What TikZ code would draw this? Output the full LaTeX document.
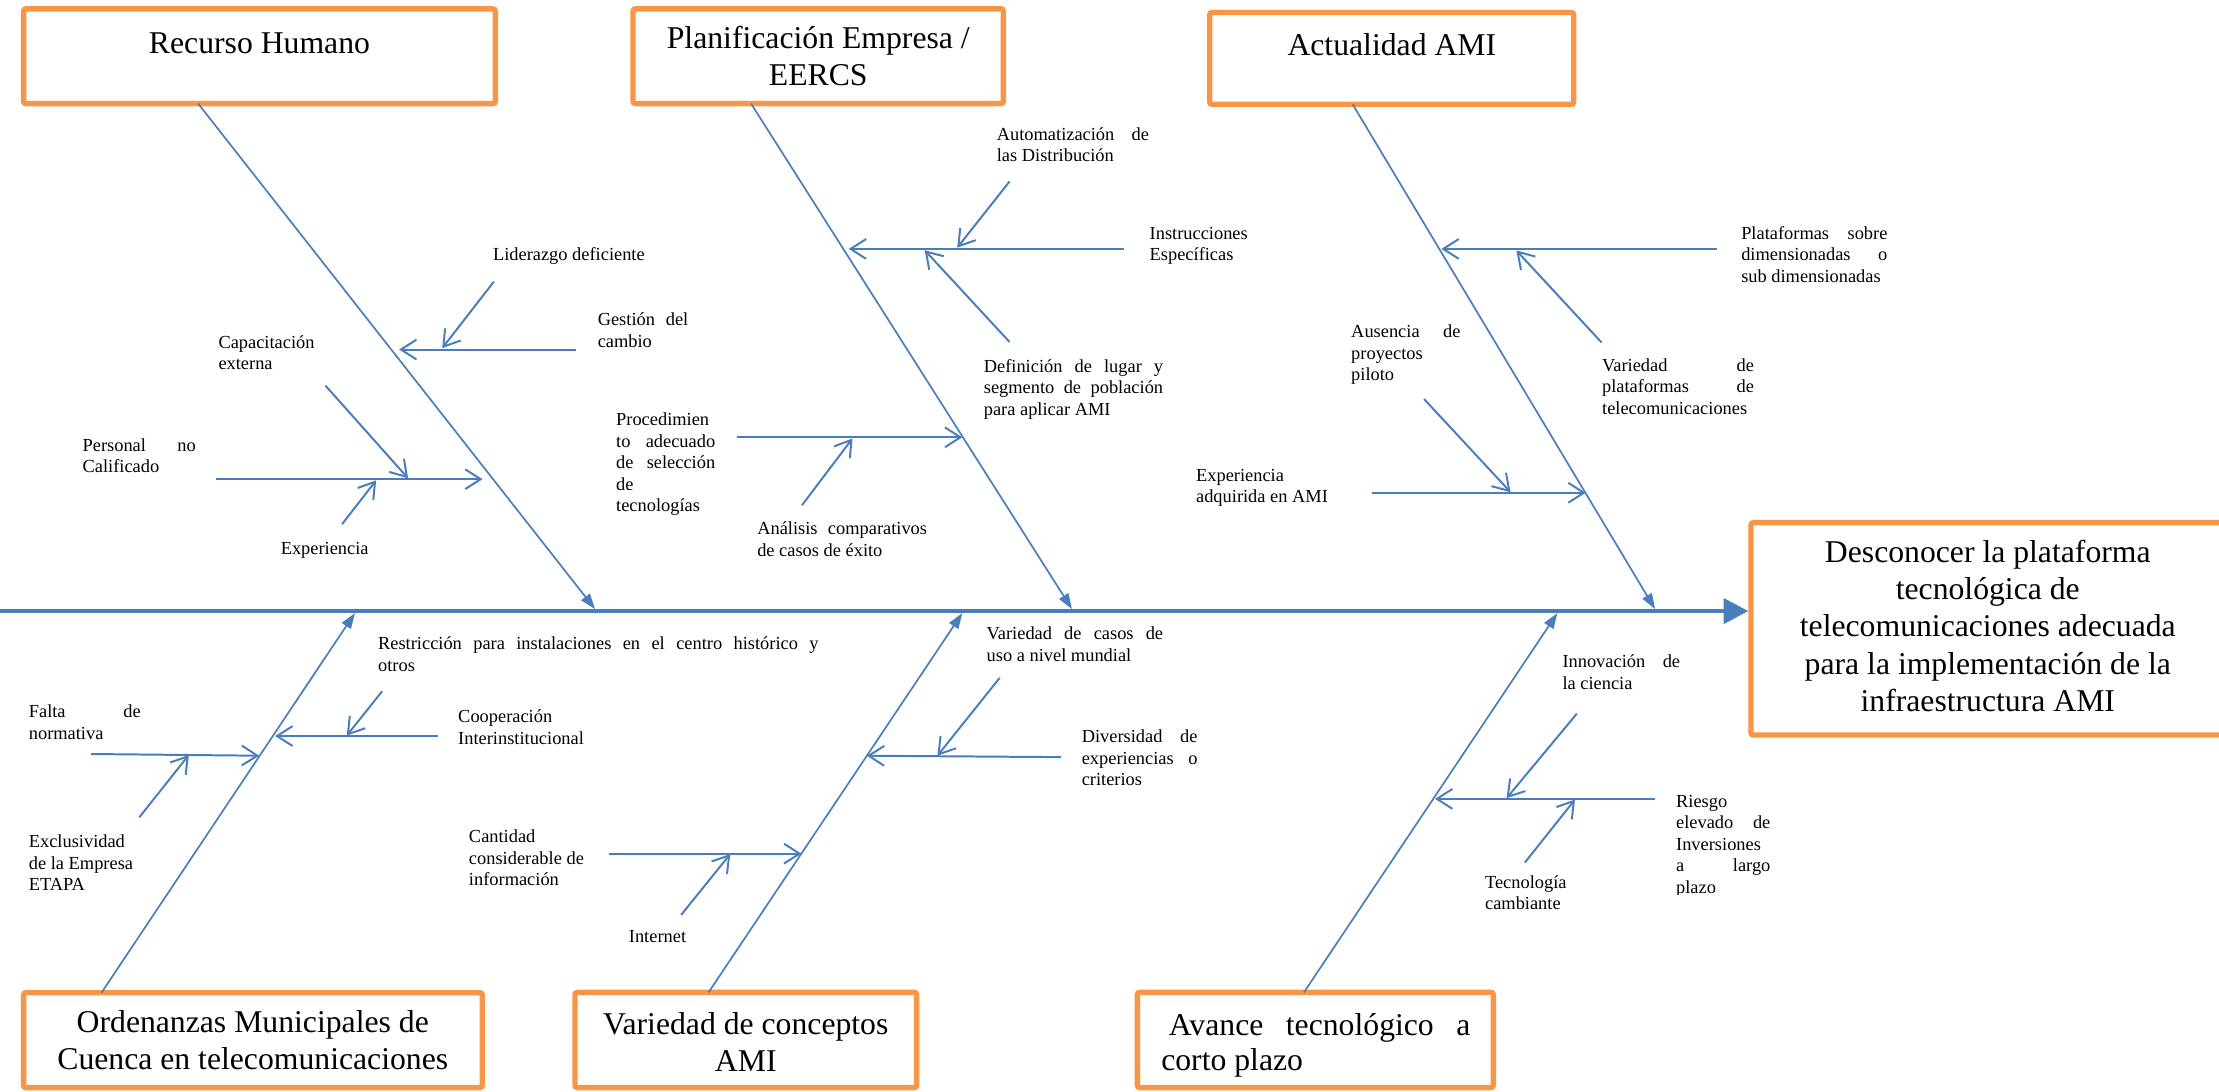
\documentclass[tikz,border=0pt]{standalone}
\usepackage{fontspec}
\setmainfont{Liberation Serif}
\usetikzlibrary{arrows.meta,fit}

\definecolor{fishblue}{HTML}{4A7EBB}
\definecolor{catorange}{HTML}{F79646}

% one justified line of a given width
\newcommand\jus[2]{\hbox to #1{#2}}
% small cause text: lines given as \hbox / \jus, baseline = first line
\newcommand\causetext[1]{\vtop{\fontsize{6.5}{7.6}\selectfont #1}}
% centred category text, rows separated by \cr
\newcommand\cattext[1]{\vtop{\fontsize{11.2}{13.2}\selectfont\halign{\hfil##\hfil\cr#1\crcr}}}
% a secondary cause arrow between two named coordinates
\newcommand\subcause[3]{%
  \coordinate (#1-a) at (#2);
  \coordinate (#1-z) at (#3);
  \draw[subcause] (#1-a) -- (#1-z);}

\begin{document}
\begin{tikzpicture}[x=0.5pt,y=-0.5pt,
  catbox/.style={draw=catorange, line width=1.9pt, rounded corners=0.8pt, inner sep=0pt},
  bone/.style={fishblue, line width=0.6pt, -{Triangle[length=5.5pt,width=3.8pt]}},
  spine/.style={fishblue, line width=1.5pt, -{Triangle[length=8.7pt,width=8.8pt]}},
  subcause/.style={fishblue, line width=0.7pt, -{Straight Barb[length=5.5pt,width=7pt]}},
  causelabel/.style={anchor=base west, inner sep=0pt},
  catlabel/.style={anchor=base, inner sep=0pt},
]
\useasboundingbox (0,0) rectangle (1568,771);
\clip (0,0) rectangle (1568,771);

% ---------- category boxes ----------
\node[catbox, fit={(16.7,6.3) (350,73.2)}] (rh) {};
\node[catbox, fit={(447.3,6.3) (709,73.2)}] (pe) {};
\node[catbox, fit={(854.8,8.8) (1112,73.7)}] (ac) {};
\node[catbox, fit={(1237.3,369.3) (1600,519.4)}] (effect) {};
\node[catbox, fit={(16.7,701.5) (340.8,768.5)}] (om) {};
\node[catbox, fit={(406.3,701.2) (647.7,768.5)}] (vc) {};
\node[catbox, fit={(803.7,701.2) (1055.2,768.5)}] (at) {};

\node[catlabel] (rh-t) at (183.35,37.8) {\cattext{Recurso Humano}};
\node[catlabel] (pe-t) at (578.2,34) {\cattext{Planificación Empresa /\cr EERCS}};
\node[catlabel] (ac-t) at (983.5,39) {\cattext{Actualidad AMI}};
\node[catlabel] (effect-t) at (1404.6,397.2) {\cattext{Desconocer la plataforma\cr tecnológica de\cr telecomunicaciones adecuada\cr para la implementación de la\cr infraestructura AMI}};
\node[catlabel] (om-t) at (178.6,729.5) {\cattext{Ordenanzas Municipales de\cr Cuenca en telecomunicaciones}};
\node[catlabel] (vc-t) at (527,730.7) {\cattext{Variedad de conceptos\cr AMI}};
\node[causelabel] (at-t) at (820.2,731.4) {\vtop{\fontsize{11.2}{12.4}\selectfont
  \hbox{\hskip2.7pt\jus{106.5pt}{Avance tecnológico a}}\hbox{corto plazo}}};

% ---------- spine ----------
\coordinate (tail) at (0,431.8);
\draw[spine] (tail) -- (effect.west |- tail);

% ---------- main bones ----------
\coordinate (rh-a) at (140,73.2);    \coordinate (rh-z) at (420.5,430.4);
\coordinate (pe-a) at (530.7,73.2);  \coordinate (pe-z) at (757.5,430.4);
\coordinate (ac-a) at (955.8,73.7);  \coordinate (ac-z) at (1169.5,430.4);
\coordinate (om-a) at (71.7,701.5);  \coordinate (om-z) at (250.8,433.2);
\coordinate (vc-a) at (500.7,701.2); \coordinate (vc-z) at (680,433.2);
\coordinate (at-a) at (921.4,701.2); \coordinate (at-z) at (1100.5,433.2);
\foreach \b in {rh,pe,ac,om,vc,at}
  \draw[bone] (\b-a) -- (\b-z);

% ---------- Recurso Humano ----------
\subcause{gestion}{407,247}{282,247}
\subcause{lider}{349,199}{312.5,246}
\subcause{personal}{152.7,338.6}{341,338.6}
\subcause{capac}{230,272.5}{288.4,338}
\subcause{expe}{241.7,370.4}{265.8,339.4}

\node[causelabel] (lider-l) at (348,184) {\causetext{\hbox{Liderazgo deficiente}}};
\node[causelabel] (gestion-l) at (422,230) {\causetext{\jus{32pt}{Gestión del}\hbox{cambio}}};
\node[causelabel] (capac-l) at (154,246) {\causetext{\hbox{Capacitación}\hbox{externa}}};
\node[causelabel] (personal-l) at (58,319) {\causetext{\jus{40pt}{Personal no}\hbox{Calificado}}};
\node[causelabel] (expe-l) at (198,392) {\causetext{\hbox{Experiencia}}};

% ---------- Planificación Empresa / EERCS ----------
\subcause{instr}{794,175.9}{599.7,175.9}
\subcause{autom}{713.4,128.2}{676.4,175}
\subcause{defin}{713.4,241.7}{653.4,176.8}
\subcause{proced}{520.7,309}{680,309}
\subcause{analisis}{566.7,357}{602.4,309.8}

\node[causelabel] (autom-l) at (704,99) {\causetext{\jus{53.75pt}{Automatización de}\hbox{las Distribución}}};
\node[causelabel] (instr-l) at (812,169) {\causetext{\hbox{Instrucciones}\hbox{Específicas}}};
\node[causelabel] (defin-l) at (694.8,263) {\causetext{\jus{63.35pt}{Definición de lugar y}\jus{63.35pt}{segmento de población}\hbox{para aplicar AMI}}};
\node[causelabel] (proced-l) at (435,300.8) {\causetext{\hbox{Procedimien}\jus{35pt}{to adecuado}\jus{35pt}{de selección}\hbox{de}\hbox{tecnologías}}};
\node[causelabel] (analisis-l) at (534.7,377.7) {\causetext{\jus{60pt}{Análisis comparativos}\hbox{de casos de éxito}}};

% ---------- Actualidad AMI ----------
\subcause{plataf}{1213,175.9}{1018.5,175.9}
\subcause{varplat}{1131.7,242}{1071.5,177}
\subcause{expadq}{969.6,348.2}{1120.5,348.2}
\subcause{ausencia}{1006.3,282}{1067.4,347.8}

\node[causelabel] (plataf-l) at (1230,169) {\causetext{\jus{51.65pt}{Plataformas sobre}\jus{51.65pt}{dimensionadas o}\hbox{sub dimensionadas}}};
\node[causelabel] (varplat-l) at (1131.7,262.4) {\causetext{\jus{53.65pt}{Variedad de}\jus{53.65pt}{plataformas de}\hbox{telecomunicaciones}}};
\node[causelabel] (expadq-l) at (844.8,340) {\causetext{\hbox{Experiencia}\hbox{adquirida en AMI}}};
\node[causelabel] (ausencia-l) at (954.4,238.5) {\causetext{\jus{38.6pt}{Ausencia de}\hbox{proyectos}\hbox{piloto}}};

% ---------- Ordenanzas Municipales ----------
\subcause{coop}{309.4,520.1}{194.4,520.1}
\subcause{restric}{270,488.5}{245,519.8}
\subcause{falta}{64.4,532.8}{183.2,534}
\subcause{exclus}{98.4,577.6}{133.4,533.5}

\node[causelabel] (restric-l) at (266.8,459.1) {\causetext{\jus{155.6pt}{Restricción para instalaciones en el centro histórico y}\hbox{otros}}};
\node[causelabel] (coop-l) at (323.4,510.6) {\causetext{\hbox{Cooperación}\hbox{Interinstitucional}}};
\node[causelabel] (falta-l) at (20,507) {\causetext{\jus{39.5pt}{Falta de}\hbox{normativa}}};
\node[causelabel] (exclus-l) at (20,599) {\causetext{\hbox{Exclusividad}\hbox{de la Empresa}\hbox{ETAPA}}};

% ---------- Variedad de conceptos AMI ----------
\subcause{divers}{749.8,535}{612.5,534}
\subcause{varcasos}{706.4,479}{662.4,534}
\subcause{cantidad}{430.1,603.2}{566.3,603.2}
\subcause{internet}{481.3,646.5}{516,603.5}

\node[causelabel] (varcasos-l) at (696.8,451.9) {\causetext{\jus{62.35pt}{Variedad de casos de}\hbox{uso a nivel mundial}}};
\node[causelabel] (divers-l) at (764,524.9) {\causetext{\jus{40.9pt}{Diversidad de}\jus{40.9pt}{experiencias o}\hbox{criterios}}};
\node[causelabel] (cantidad-l) at (331,595.5) {\causetext{\hbox{Cantidad}\hbox{considerable de}\hbox{información}}};
\node[causelabel] (internet-l) at (444,666.1) {\causetext{\hbox{Internet}}};

% ---------- Avance tecnológico ----------
\subcause{riesgo}{1169.3,564.5}{1014,564.5}
\subcause{innov}{1114.2,504.3}{1064.6,564}
\subcause{tecno}{1077.5,609.5}{1112.9,565}

\node[causelabel] (innov-l) at (1103.7,471.8) {\causetext{\jus{41.55pt}{Innovación de}\hbox{la ciencia}}};
\node[causelabel] (tecno-l) at (1049,627.6) {\causetext{\hbox{Tecnología}\hbox{cambiante}}};
\begin{scope}
  \clip (1175,555) rectangle (1265,632);
  \node[causelabel] (riesgo-l) at (1184,570.3) {\causetext{\hbox{Riesgo}\jus{33.3pt}{elevado de}\hbox{Inversiones}\jus{33.3pt}{a largo}\hbox{plazo}}};
\end{scope}
\end{tikzpicture}
\end{document}
